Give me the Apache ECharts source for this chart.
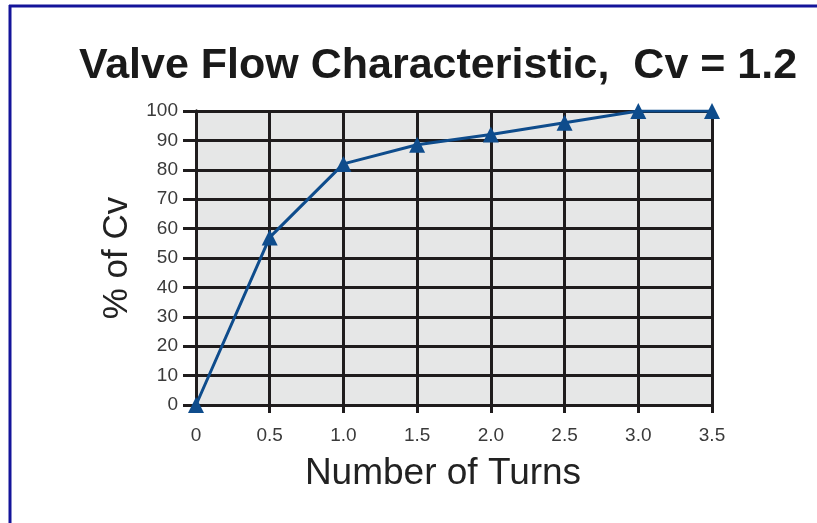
<!DOCTYPE html>
<html>
<head>
<meta charset="utf-8">
<script src="https://cdn.jsdelivr.net/npm/echarts@6/dist/echarts.min.js"></script>
<style>html,body{margin:0;padding:0;background:#fff;}#c{width:817px;height:523px;}</style>
</head>
<body>
<div id="c"></div>
<script>
const turns = [0, 0.5, 1.0, 1.5, 2.0, 2.5, 3.0, 3.5];
const pctCv = [0, 57, 82, 88.5, 92, 96, 100, 100];
const xTickLabels = ['0', '0.5', '1.0', '1.5', '2.0', '2.5', '3.0', '3.5'];
const titleText = 'Valve Flow Characteristic,  Cv = 1.2';
const xName = 'Number of Turns';
const yName = '% of Cv';

const chart = echarts.init(document.getElementById('c'), null, {renderer: 'canvas'});
const gridColor = '#1f1c1d';
const lineBlue = '#0e4c8c';
const fontFam = '"Liberation Sans", Arial, sans-serif';

const xFormatter = v => {
  const i = turns.findIndex(t => Math.abs(t - v) < 1e-6);
  return i >= 0 ? xTickLabels[i] : '';
};

chart.setOption({
  animation: false,
  backgroundColor: '#ffffff',
  title: {
    text: titleText,
    left: 433, top: 40, textAlign: 'center',
    textStyle: {fontFamily: fontFam, fontSize: 43, fontWeight: 'bold', color: '#1a1a1a'}
  },
  grid: {
    left: 196, right: 105, top: 111, bottom: 118,
    show: true, backgroundColor: '#e6e7e7', borderWidth: 0
  },
  graphic: [
    {type: 'line', shape: {x1: 9, y1: 6, x2: 817, y2: 6}, style: {stroke: '#14149a', lineWidth: 3}, silent: true},
    {type: 'line', shape: {x1: 10, y1: 5, x2: 10, y2: 523}, style: {stroke: '#14149a', lineWidth: 3}, silent: true}
  ],
  xAxis: [{
    type: 'value', min: 0, max: 3.5, interval: 0.5, position: 'bottom',
    name: xName, nameLocation: 'middle', nameGap: 50,
    nameTextStyle: {fontFamily: fontFam, fontSize: 37, color: '#222', padding: [0, 22, 0, 0]},
    axisLine: {show: true, lineStyle: {color: gridColor, width: 3}},
    axisTick: {show: true, length: 8, lineStyle: {color: gridColor, width: 3}},
    axisLabel: {formatter: xFormatter, fontFamily: fontFam, fontSize: 19, color: '#3a3a3a', margin: 21},
    splitLine: {show: true, lineStyle: {color: gridColor, width: 3}}
  }, {
    type: 'value', min: 0, max: 3.5, interval: 0.5, position: 'top',
    axisLine: {show: true, lineStyle: {color: gridColor, width: 3}},
    axisTick: {show: true, length: 9, lineStyle: {color: gridColor, width: 3}},
    axisLabel: {show: false}, splitLine: {show: false}
  }],
  yAxis: [{
    type: 'value', min: 0, max: 100, interval: 10, position: 'left',
    name: yName, nameLocation: 'middle', nameGap: 61, nameRotate: 90,
    nameTextStyle: {fontFamily: fontFam, fontSize: 35, color: '#222'},
    axisLine: {show: true, lineStyle: {color: gridColor, width: 3}},
    axisTick: {show: true, length: 13, lineStyle: {color: gridColor, width: 3}},
    axisLabel: {fontFamily: fontFam, fontSize: 19, color: '#3a3a3a', margin: 18},
    splitLine: {show: true, lineStyle: {color: gridColor, width: 3}}
  }, {
    type: 'value', min: 0, max: 100, interval: 10, position: 'right',
    axisLine: {show: true, lineStyle: {color: gridColor, width: 3}},
    axisTick: {show: true, length: 8, lineStyle: {color: gridColor, width: 3}},
    axisLabel: {show: false}, splitLine: {show: false}
  }],
  series: [{
    type: 'line',
    data: turns.map((t, i) => [t, pctCv[i]]),
    xAxisIndex: 0, yAxisIndex: 0,
    symbol: 'triangle', symbolSize: 16,
    lineStyle: {color: lineBlue, width: 3},
    itemStyle: {color: lineBlue},
    z: 10
  }]
});
</script>
</body>
</html>
